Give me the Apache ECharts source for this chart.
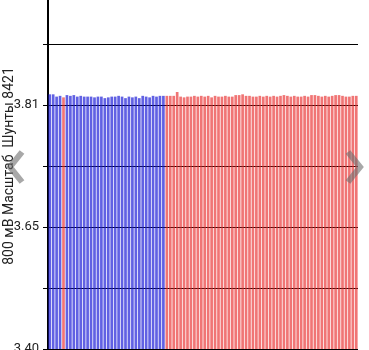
<!DOCTYPE html>
<html><head><meta charset="utf-8">
<script src="https://cdn.jsdelivr.net/npm/echarts@6/dist/echarts.min.js"></script>
<style>html,body{margin:0;padding:0;background:#fff}#c{width:369px;height:350px}</style>
</head><body><div id="c"></div>
<script>
// Bar values (volts) – blue group then red group
const blueValues = [3.824,3.824,3.821,3.822,3.820,3.823,3.822,3.823,3.821,3.822,3.821,3.821,3.821,3.820,3.821,3.821,3.819,3.820,3.821,3.821,3.822,3.821,3.819,3.821,3.820,3.821,3.819,3.822,3.821,3.820,3.822,3.821,3.822,3.822];
const redValues = [3.822,3.822,3.822,3.827,3.821,3.820,3.821,3.821,3.822,3.821,3.822,3.821,3.822,3.820,3.822,3.821,3.821,3.822,3.821,3.821,3.823,3.823,3.824,3.822,3.822,3.821,3.821,3.822,3.821,3.822,3.821,3.822,3.821,3.822,3.823,3.822,3.821,3.822,3.821,3.821,3.822,3.821,3.823,3.823,3.822,3.821,3.822,3.821,3.822,3.823,3.823,3.822,3.821,3.821,3.822,3.822];
// bars in the blue group that are drawn red
const redInBlue = [4];
const axisBase = 3.49;
const tickStep = 0.08;
const tickLabels = ['3.40','','3.65','','3.81','',''];
const axisName = '800 мВ Масштаб  Шунты 8421';

const allValues = blueValues.concat(redValues);
const categories = allValues.map((_, i) => String(i + 1));
const BLUE = 'rgba(30,30,215,0.7)';
const RED = 'rgba(232,45,45,0.66)';
const seriesData = allValues.map((v, i) => {
  const isRed = i >= blueValues.length || redInBlue.includes(i);
  return { value: +(v - axisBase).toFixed(4), itemStyle: { color: isRed ? RED : BLUE } };
});

const chart = echarts.init(document.getElementById('c'), null, { renderer: 'canvas' });
chart.setOption({
  animation: false,
  grid: { left: 48, right: 11, top: -17, bottom: 1, containLabel: false, outerBoundsMode: 'none' },
  xAxis: {
    type: 'category', data: categories, show: false
  },
  yAxis: {
    type: 'value', min: 0, max: tickStep * 6, interval: tickStep,
    name: axisName, nameLocation: 'middle', nameRotate: 90, nameGap: 32, nameMoveOverlap: false,
    nameTextStyle: { fontFamily: 'Roboto', fontSize: 14, color: '#222' },
    axisLine: { show: true, lineStyle: { color: '#000', width: 2 } },
    axisTick: { show: true, length: 5, lineStyle: { color: '#000', width: 1 } },
    axisLabel: {
      margin: 9, fontFamily: 'Roboto', fontSize: 13, color: '#222',
      formatter: v => tickLabels[Math.round(v / tickStep)] || ''
    },
    splitLine: { show: true, lineStyle: { color: '#000', width: 1 } }
  },
  series: [{
    type: 'bar', data: seriesData, barCategoryGap: '22%', z: 3
  }],
  graphic: [
    { type: 'polyline', shape: { points: [[22,152],[10,167],[22,182]] },
      style: { stroke: 'rgba(110,110,110,0.6)', lineWidth: 6, fill: null }, z: 100 },
    { type: 'polyline', shape: { points: [[348,152],[360,167],[348,182]] },
      style: { stroke: 'rgba(110,110,110,0.6)', lineWidth: 6, fill: null }, z: 100 }
  ]
});
</script></body></html>
